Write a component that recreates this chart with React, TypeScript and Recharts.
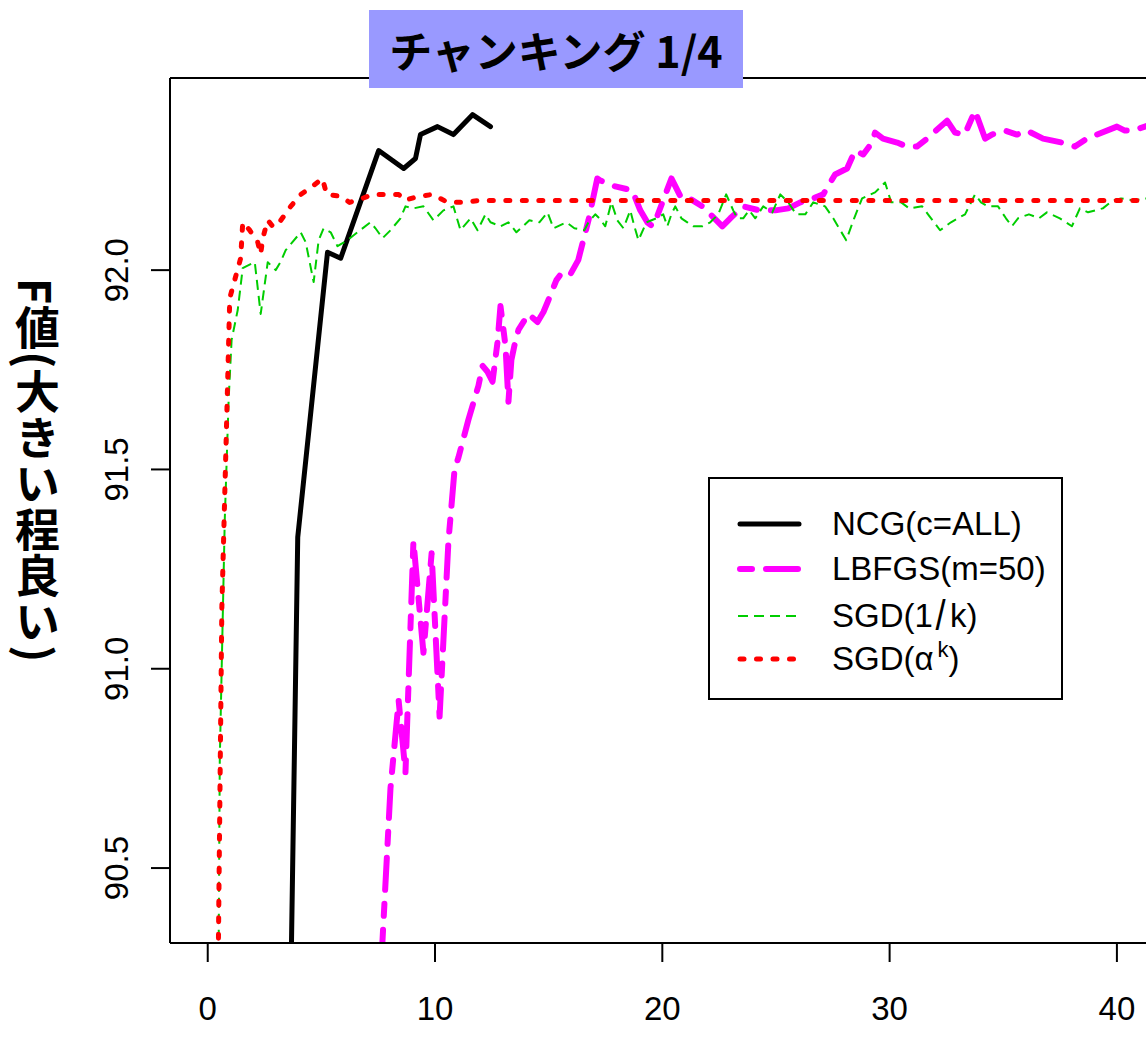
import React from "react";
import { LineChart, Line, XAxis, YAxis, ReferenceLine } from "recharts";

// axis setup
const xTicks = [0, 10, 20, 30, 40];
const yTicks = [90.5, 91.0, 91.5, 92.0];
const xDomain: [number, number] = [-1.66, 41.28];
const yDomain: [number, number] = [90.312, 92.482];

// NCG(c=ALL)
const ncgTime = [3.6, 3.96, 5.27, 5.85, 7.52, 8.62, 9.14, 9.36, 10.11, 10.81, 11.65, 12.44];
const ncgF = [90.0, 91.33, 92.045, 92.03, 92.3, 92.255, 92.28, 92.34, 92.36, 92.34, 92.39, 92.36];

// LBFGS(m=50)
const lbfgsTime = [
  7.58, 8.04, 8.4, 8.7, 9.05, 9.49, 9.85, 10.2, 10.59, 10.86, 11.03, 11.47, 11.91, 12.09,
  12.31, 12.53, 12.75, 12.88, 13.1, 13.23, 13.36, 13.49, 13.67, 14.11, 14.51, 14.77, 14.99,
  15.34, 15.6, 15.96, 16.3, 16.75, 17.14, 17.27, 17.93, 18.68, 19.03, 19.34, 19.56, 19.74,
  20.4, 20.84, 21.19, 21.76, 22.64, 22.99, 23.56, 24.26, 24.97, 25.54, 26.07, 26.64, 27.08,
  27.6, 28.13, 28.48, 28.84, 29.23, 29.36, 29.71, 30.33, 30.77, 31.2, 31.65, 32.53, 32.88,
  33.3, 33.76, 34.2, 34.5, 35.08, 35.6, 36.04, 36.75, 37.58, 38.15, 38.68, 39.12, 40.0,
  40.35, 40.7, 41.23, 41.5,
];
const lbfgsF = [
  90.2, 90.7, 90.92, 90.74, 91.32, 91.04, 91.29, 90.88, 91.32, 91.5, 91.53, 91.625, 91.71, 91.76,
  91.745, 91.72, 91.82, 91.91, 91.81, 91.67, 91.775, 91.81, 91.85, 91.89, 91.87, 91.895, 91.925,
  91.975, 91.995, 91.99, 92.025, 92.125, 92.23, 92.225, 92.21, 92.2, 92.15, 92.12, 92.11, 92.13,
  92.23, 92.18, 92.18, 92.16, 92.11, 92.13, 92.16, 92.15, 92.15, 92.155, 92.17, 92.18, 92.19,
  92.24, 92.255, 92.3, 92.29, 92.32, 92.345, 92.33, 92.32, 92.31, 92.31, 92.33, 92.375, 92.345,
  92.34, 92.4, 92.33, 92.34, 92.35, 92.34, 92.35, 92.33, 92.32, 92.31, 92.33, 92.34, 92.36,
  92.35, 92.35, 92.36, 92.365,
];

// SGD(1/k)
const sgdKTime = [
  0.47, 0.53, 0.75, 0.92, 1.05, 1.32, 1.54, 1.71, 2.07, 2.33, 2.64, 2.99, 3.2, 3.43, 4.09, 4.31,
  4.66, 4.88, 5.1, 5.41, 5.71, 6.15, 6.59, 7.16, 7.38, 7.69, 8.04, 8.48, 8.7, 9.05, 9.49, 9.93,
  10.37, 10.81, 11.12, 11.56, 11.87, 12.22, 12.44, 12.88, 13.23, 13.58, 14.15, 14.59, 14.95,
  15.21, 15.78, 16.13, 16.57, 16.75, 17.05, 17.23, 17.49, 17.76, 18.02, 18.29, 18.59, 18.77,
  18.95, 19.3, 19.74, 20.04, 20.22, 20.4, 20.57, 20.84, 21.1, 21.36, 21.76, 22.11, 22.46, 22.81,
  23.12, 23.3, 23.56, 23.82, 24.09, 24.44, 24.84, 25.19, 25.54, 25.89, 26.29, 26.64, 27.16,
  27.52, 28.09, 28.44, 28.79, 29.36, 29.8, 30.07, 30.51, 30.86, 31.43, 31.69, 32.22, 32.7,
  33.32, 33.76, 34.02, 34.33, 34.77, 35.12, 35.38, 35.65, 36.13, 36.57, 36.92, 37.49, 38.02,
  38.37, 38.73, 39.38, 39.82, 40.18, 40.75, 41.23, 41.5,
];
const sgdKF = [
  90.2, 90.77, 91.375, 91.675, 91.825, 91.9, 92.005, 92.01, 92.02, 91.89, 92.02, 92.0, 92.02,
  92.05, 92.095, 92.07, 91.97, 92.075, 92.105, 92.095, 92.06, 92.075, 92.095, 92.12, 92.105,
  92.08, 92.1, 92.13, 92.16, 92.155, 92.16, 92.125, 92.15, 92.16, 92.1, 92.13, 92.1, 92.14,
  92.12, 92.11, 92.12, 92.095, 92.125, 92.12, 92.145, 92.105, 92.12, 92.105, 92.1, 92.12,
  92.14, 92.13, 92.11, 92.17, 92.125, 92.105, 92.15, 92.11, 92.075, 92.12, 92.13, 92.14, 92.11,
  92.14, 92.16, 92.13, 92.12, 92.11, 92.11, 92.12, 92.14, 92.19, 92.15, 92.13, 92.13, 92.15,
  92.13, 92.16, 92.145, 92.19, 92.17, 92.14, 92.14, 92.17, 92.16, 92.13, 92.075, 92.13, 92.18,
  92.195, 92.22, 92.17, 92.17, 92.155, 92.16, 92.14, 92.1, 92.12, 92.14, 92.19, 92.17, 92.16,
  92.16, 92.13, 92.11, 92.13, 92.14, 92.13, 92.145, 92.13, 92.11, 92.155, 92.145, 92.155,
  92.175, 92.18, 92.175, 92.18, 92.18,
];

// SGD(alpha^k)
const sgdATime = [
  0.45, 0.62, 0.97, 1.45, 1.54, 1.85, 2.2, 2.33, 2.42, 2.64, 2.86, 3.03, 3.65, 4.1, 4.6, 5.05,
  5.23, 5.85, 6.24, 6.81, 7.25, 7.96, 8.4, 8.66, 9.27, 9.9, 10.55, 11.2, 12.0, 20, 30, 41.5,
];
const sgdAF = [
  90.2, 91.15, 91.93, 92.03, 92.12, 92.1, 92.07, 92.04, 92.08, 92.125, 92.11, 92.11, 92.16,
  92.19, 92.21, 92.23, 92.19, 92.185, 92.17, 92.18, 92.19, 92.19, 92.19, 92.175, 92.185, 92.19,
  92.17, 92.17, 92.175, 92.175, 92.175, 92.175,
];

const toPoints = (xs: number[], ys: number[]) => xs.map((x, i) => ({ x, y: ys[i] }));

const series = [
  { name: "NCG(c=ALL)", data: toPoints(ncgTime, ncgF), color: "#000000", width: 5, dash: undefined, cap: "round" },
  { name: "LBFGS(m=50)", data: toPoints(lbfgsTime, lbfgsF), color: "#FF00FF", width: 6, dash: "12 14 32 14", cap: "round" },
  { name: "SGD(1/k)", data: toPoints(sgdKTime, sgdKF), color: "#00CD00", width: 2, dash: "10 6", cap: "butt" },
  { name: "SGD(ak)", data: toPoints(sgdATime, sgdAF), color: "#FF0000", width: 5, dash: "4 12.5", cap: "round" },
];

const FONT = '"Liberation Sans", Arial, sans-serif';
const JP = '"Noto Sans CJK JP", "Noto Sans", sans-serif';

function YTick(props: { y?: number; payload?: { value: number } }) {
  const { y = 0, payload } = props;
  const tx = 128;
  return (
    <text
      x={tx}
      y={y}
      transform={`rotate(-90 ${tx} ${y})`}
      textAnchor="middle"
      fontSize={33}
      fontFamily={FONT}
      fill="#000"
    >
      {payload ? payload.value.toFixed(1) : ""}
    </text>
  );
}

function LegendBox() {
  const rows = [
    { s: series[0], label: <>NCG(c=ALL)</> },
    { s: series[1], label: <>LBFGS(m=50)</> },
    {
      s: series[2],
      label: (
        <>
          SGD(1
          <span style={{ display: "inline-block", transform: "scale(1.1,1.3)", margin: "0 5px 0 3px" }}>/</span>
          k)
        </>
      ),
    },
    {
      s: series[3],
      label: (
        <>
          SGD(α
          <span style={{ fontSize: 22, position: "relative", top: -13, marginLeft: 4 }}>k</span>)
        </>
      ),
    },
  ];
  const rowY = [45, 90, 137, 180];
  return (
    <div
      style={{
        position: "absolute",
        left: 708,
        top: 477,
        width: 351,
        height: 219,
        border: "2px solid #000",
        background: "#fff",
      }}
    >
      {rows.map((r, i) => (
        <div key={i} style={{ position: "absolute", left: 0, top: rowY[i] - 18, height: 36, width: 350 }}>
          <svg width={100} height={36} style={{ position: "absolute", left: 0, top: 0 }}>
            <line
              x1={r.s.cap === "round" ? 30 : 28}
              x2={r.s.cap === "round" ? 89 : 91}
              y1={18}
              y2={18}
              stroke={r.s.color}
              strokeWidth={r.s.width}
              strokeDasharray={r.s.dash}
              strokeLinecap={r.s.cap as "round" | "butt"}
            />
          </svg>
          <div
            style={{
              position: "absolute",
              left: 122,
              top: 0,
              height: 36,
              lineHeight: "36px",
              fontSize: 33,
              fontFamily: FONT,
              color: "#000",
              whiteSpace: "nowrap",
            }}
          >
            {r.label}
          </div>
        </div>
      ))}
    </div>
  );
}

export default function App() {
  return (
    <div style={{ position: "absolute", left: 0, top: 0, width: 1146, height: 1051, background: "#fff", overflow: "hidden" }}>
      <LineChart width={1146} height={1051} margin={{ top: 78, right: 0, bottom: 0, left: 0 }}>
        <XAxis
          dataKey="x"
          type="number"
          domain={xDomain}
          ticks={xTicks}
          allowDataOverflow
          height={108}
          tickSize={19}
          tickMargin={35}
          axisLine={{ stroke: "#000", strokeWidth: 2 }}
          tickLine={{ stroke: "#000", strokeWidth: 2 }}
          tick={{ fontSize: 33, fill: "#000", fontFamily: FONT }}
        />
        <YAxis
          dataKey="y"
          type="number"
          domain={yDomain}
          ticks={yTicks}
          allowDataOverflow
          width={170}
          tickSize={19}
          axisLine={{ stroke: "#000", strokeWidth: 2 }}
          tickLine={{ stroke: "#000", strokeWidth: 2 }}
          tick={<YTick />}
        />
        <ReferenceLine y={yDomain[1]} stroke="#000" strokeWidth={2} ifOverflow="visible" />
        {series.map((s) => (
          <Line
            key={s.name}
            data={s.data}
            dataKey="y"
            type="linear"
            stroke={s.color}
            strokeWidth={s.width}
            strokeDasharray={s.dash}
            strokeLinecap={s.cap as "round" | "butt"}
            strokeLinejoin="round"
            dot={false}
            activeDot={false}
            isAnimationActive={false}
          />
        ))}
      </LineChart>

      <div
        style={{
          position: "absolute",
          left: 369,
          top: 10,
          width: 374,
          height: 78,
          background: "#9999FF",
          display: "flex",
          alignItems: "center",
          justifyContent: "center",
          fontFamily: JP,
          fontWeight: 700,
          fontSize: 43,
          color: "#000",
        }}
      >
        チャンキング 1/4
      </div>

      <div
        style={{
          position: "absolute",
          left: 15,
          top: 278,
          writingMode: "vertical-rl",
          fontFamily: JP,
          fontWeight: 700,
          fontSize: 45,
          lineHeight: 1,
          letterSpacing: 1,
          color: "#000",
        }}
      >
        F値(大きい程良い)
      </div>

      <LegendBox />
    </div>
  );
}
